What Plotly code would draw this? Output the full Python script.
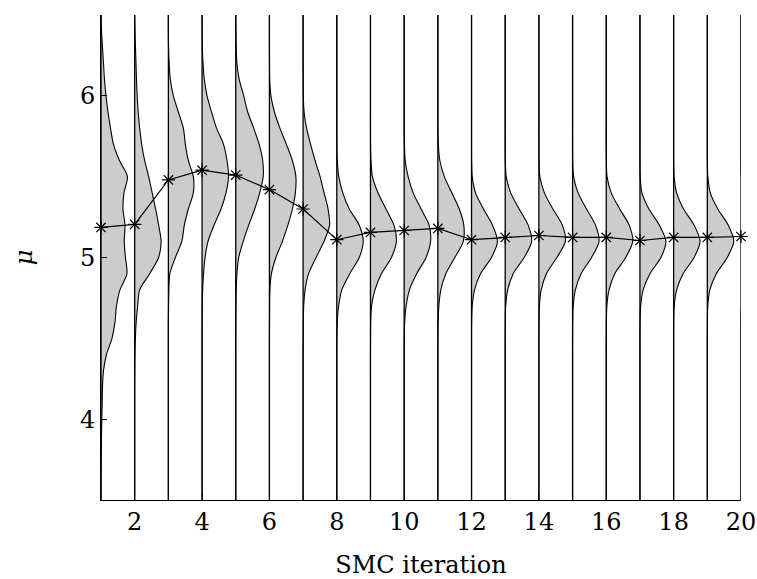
import plotly.graph_objects as go

# Grid of mu values on which each iteration's posterior density is tabulated
MU_GRID = [3.5, 3.6, 3.7, 3.8, 3.9, 4.0, 4.1, 4.2, 4.3, 4.4, 4.5, 4.6, 4.7, 4.8, 4.9,
           5.0, 5.1, 5.2, 5.3, 5.4, 5.5, 5.6, 5.7, 5.8, 5.9, 6.0, 6.1, 6.2, 6.3, 6.4, 6.5]

# SMC iterations
ITERATIONS = list(range(1, 21))

# Posterior mean of mu at each iteration
MEANS = [5.186, 5.205, 5.48, 5.54, 5.51, 5.42, 5.30, 5.11, 5.155, 5.167,
         5.18, 5.11, 5.124, 5.136, 5.124, 5.124, 5.105, 5.124, 5.124, 5.13]

# Density of mu (arbitrary units) at each iteration, on MU_GRID
d1 = [0, 0, 0.1, 0.3, 0.5, 0.8, 1.2, 1.5, 2.5, 5.5, 11, 14, 15.5, 19, 26, 24.5,
      23.3, 24, 22, 23, 26.5, 18.5, 12.5, 9.5, 7, 5, 3.5, 2.5, 1.5, 0.5, 0]
d2 = [0, 0, 0, 0, 0, 0, 0, 0, 0.1, 0.3, 0.7, 1.5, 3, 5, 15, 24,
      26.5, 24, 21, 17.5, 14, 10, 7, 5, 3.5, 2.5, 1.8, 1.3, 0.8, 0.3, 0]
d3 = [0, 0, 0, 0, 0, 0, 0, 0, 0, 0, 0, 0, 0.2, 0.5, 1.5, 7,
      13.5, 16, 20, 25, 25, 20, 17, 15, 10, 5, 2, 0.8, 0.2, 0, 0]
d4 = [0, 0, 0, 0, 0, 0, 0, 0, 0, 0, 0, 0.1, 0.2, 0.6, 1.5, 3,
      6, 12, 19, 24, 26.5, 25, 21.5, 14.5, 9.5, 5, 2.3, 1, 0.3, 0.1, 0]
d5 = [0, 0, 0, 0, 0, 0, 0, 0, 0, 0, 0, 0.1, 0.2, 0.5, 1.2, 3,
      7.5, 13, 19, 24, 27.5, 27, 23.5, 18, 12, 8, 3.5, 1.2, 0.5, 0.2, 0]
d6 = [0, 0, 0, 0, 0, 0, 0, 0, 0, 0, 0, 0.1, 0.2, 0.5, 2, 6.5,
      13, 18.5, 23, 26, 26.5, 23, 17, 10.5, 5, 1.5, 0.3, 0.1, 0, 0, 0]
d7 = [0, 0, 0, 0, 0, 0, 0, 0, 0, 0, 0.1, 0.2, 0.6, 2, 5.5, 13,
      21, 26.5, 25, 21, 17, 12, 7.5, 3.5, 1, 0.2, 0.1, 0, 0, 0, 0]
d8 = [0, 0, 0, 0, 0, 0, 0, 0, 0, 0, 0.1, 0.5, 1.8, 5, 13, 22.5,
      26.5, 22.5, 12.5, 6, 2, 0.5, 0.1, 0, 0, 0, 0, 0, 0, 0, 0]
d9 = [0, 0, 0, 0, 0, 0, 0, 0, 0, 0, 0.05, 0.2, 1.1, 4.5, 11, 21,
      26, 23.5, 15.5, 7.5, 2, 0.5, 0.05, 0, 0, 0, 0, 0, 0, 0, 0]
d10 = [0, 0, 0, 0, 0, 0, 0, 0, 0, 0, 0.1, 0.5, 2, 5.3, 12.5, 22,
       26.5, 25, 17, 9, 4, 1, 0.3, 0, 0, 0, 0, 0, 0, 0, 0]
d11 = [0, 0, 0, 0, 0, 0, 0, 0, 0, 0, 0.1, 0.3, 1, 3, 8, 17,
       25.5, 26, 21.5, 14, 6.5, 2, 0.5, 0.1, 0, 0, 0, 0, 0, 0, 0]
d12 = [0, 0, 0, 0, 0, 0, 0, 0, 0, 0, 0, 0.1, 0.7, 3, 9, 20,
       26, 21, 12, 4, 0.7, 0.1, 0, 0, 0, 0, 0, 0, 0, 0, 0]
d13 = [0, 0, 0, 0, 0, 0, 0, 0, 0, 0, 0, 0.1, 0.5, 2.5, 8, 19,
       26.5, 23, 14, 5.5, 1, 0.1, 0, 0, 0, 0, 0, 0, 0, 0, 0]
d14 = [0, 0, 0, 0, 0, 0, 0, 0, 0, 0, 0, 0.1, 0.5, 2.3, 7.5, 18,
       26.5, 23.5, 14, 5.5, 1, 0.1, 0, 0, 0, 0, 0, 0, 0, 0, 0]
d15 = [0, 0, 0, 0, 0, 0, 0, 0, 0, 0, 0, 0.1, 0.6, 2.8, 8.5, 19,
       26.5, 23, 14, 5.5, 1, 0.1, 0, 0, 0, 0, 0, 0, 0, 0, 0]
d16 = [0, 0, 0, 0, 0, 0, 0, 0, 0, 0, 0, 0.1, 0.6, 2.8, 8.5, 19.5,
       26.5, 23, 13.5, 5, 0.8, 0.1, 0, 0, 0, 0, 0, 0, 0, 0, 0]
d17 = [0, 0, 0, 0, 0, 0, 0, 0, 0, 0, 0, 0.1, 0.7, 3.2, 10, 21,
       26, 19.5, 9, 2, 0.3, 0, 0, 0, 0, 0, 0, 0, 0, 0, 0]
d18 = [0, 0, 0, 0, 0, 0, 0, 0, 0, 0, 0, 0.1, 0.6, 3, 9.5, 20.5,
       26.5, 20.5, 10, 3, 0.5, 0.05, 0, 0, 0, 0, 0, 0, 0, 0, 0]
d19 = [0, 0, 0, 0, 0, 0, 0, 0, 0, 0, 0, 0.1, 0.5, 2.5, 9, 20,
       26.5, 21, 10.5, 3, 0.5, 0.05, 0, 0, 0, 0, 0, 0, 0, 0, 0]
d20 = [0, 0, 0, 0, 0, 0, 0, 0, 0, 0, 0, 0.1, 0.5, 2.5, 9, 20,
       26.5, 21, 10.5, 3, 0.5, 0.05, 0, 0, 0, 0, 0, 0, 0, 0, 0]

DENSITIES = [d1, d2, d3, d4, d5, d6, d7, d8, d9, d10,
             d11, d12, d13, d14, d15, d16, d17, d18, d19, d20]

# Horizontal extent of a density peak, in iteration units
PEAK_WIDTH = 0.8
PEAK_REF = 27.0

FONT = "DejaVu Serif"
FILL = "rgb(204,204,204)"

fig = go.Figure()

for it, dens in zip(ITERATIONS, DENSITIES):
    # baseline at the iteration position
    fig.add_trace(go.Scatter(
        x=[it] * len(MU_GRID), y=MU_GRID, mode="lines",
        line=dict(color="black", width=1.3), hoverinfo="skip", showlegend=False,
    ))
    # half-violin of the density, filled back to the baseline
    fig.add_trace(go.Scatter(
        x=[it + v * PEAK_WIDTH / PEAK_REF for v in dens], y=MU_GRID, mode="lines",
        line=dict(color="black", width=1.1, shape="spline", smoothing=0.8),
        fill="tonextx", fillcolor=FILL, hoverinfo="skip", showlegend=False,
    ))

fig.add_trace(go.Scatter(
    x=ITERATIONS, y=MEANS, mode="lines+markers",
    line=dict(color="black", width=1.2),
    marker=dict(symbol="asterisk-open", size=11, color="black",
                line=dict(color="black", width=1.2)),
    showlegend=False, cliponaxis=False,
))

axis_font = dict(family=FONT, size=24, color="black")

fig.update_layout(
    width=757, height=579,
    margin=dict(l=101, r=16, t=15, b=79),
    paper_bgcolor="white", plot_bgcolor="white",
    font=axis_font,
    xaxis=dict(
        range=[1, 20], tickvals=list(range(2, 21, 2)),
        ticks="inside", ticklen=6, tickcolor="black",
        showline=True, linecolor="black", linewidth=1,
        showgrid=False, zeroline=False, tickfont=axis_font, automargin=False,
        title=dict(text="SMC iteration", font=axis_font, standoff=24),
    ),
    yaxis=dict(
        range=[3.5, 6.5], tickvals=[4, 5, 6],
        ticks="inside", ticklen=6, tickcolor="black",
        showline=True, linecolor="black", linewidth=1,
        showgrid=False, zeroline=False, tickfont=axis_font, automargin=False,
        title=dict(text="<i>μ</i>", font=axis_font, standoff=40),
    ),
)

fig.write_html("out.html")
